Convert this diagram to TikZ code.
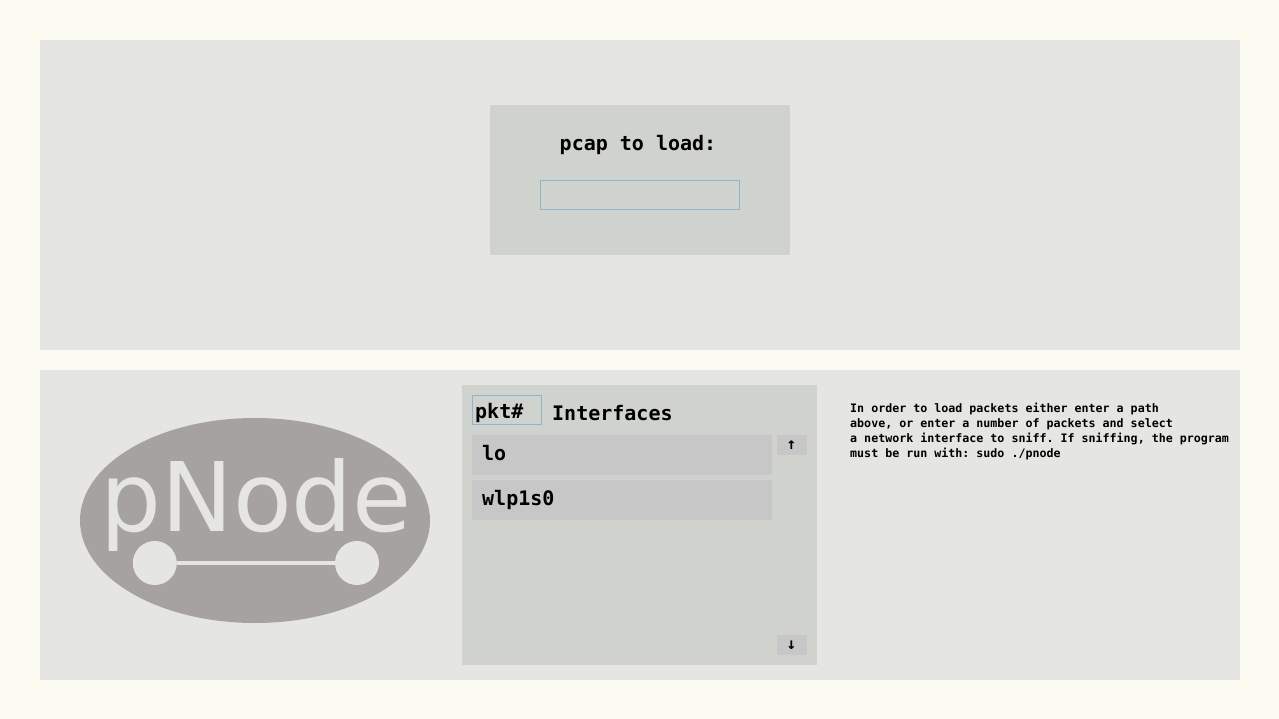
\documentclass[tikz,border=0pt]{standalone}
\usepackage{fontspec}
\usetikzlibrary{shapes.geometric}
\setmonofont{DejaVu Sans Mono}
\newfontfamily\logofont{DejaVu Sans}
\definecolor{pagebg}{HTML}{FBFBF1}
\definecolor{panelbg}{HTML}{E5E5E3}
\definecolor{boxbg}{HTML}{D0D2CD}
\definecolor{itembg}{HTML}{C7C7C7}
\definecolor{logobg}{HTML}{A6A2A0}
\definecolor{inputline}{HTML}{8DB6CF}
\begin{document}
\begin{tikzpicture}[x=1pt,y=-1pt,
  panel/.style={rectangle,fill=#1,inner sep=0pt,outer sep=0pt},
  field/.style={rectangle,draw=inputline,line width=0.8pt,inner sep=0pt,outer sep=0pt},
  mono/.style={inner sep=0pt,font=\ttfamily\bfseries\fontsize{#1}{#1}\selectfont},
  hub/.style={circle,fill=panelbg,minimum size=44pt,inner sep=0pt,outer sep=0pt}]%
  \useasboundingbox (0,0) rectangle (1279,719);
  \fill[pagebg] (0,0) rectangle (1279,719);
  % panels
  \node[panel=panelbg,minimum width=1200pt,minimum height=310pt] (top) at (640,195) {};
  \node[panel=panelbg,minimum width=1200pt,minimum height=310pt] (bottom) at (640,525) {};
  % pcap dialog
  \node[panel=boxbg,minimum width=300pt,minimum height=150pt] (dialog) at (640,180) {};
  \node[mono=20,anchor=base] (pcaplabel) at (638,151) {pcap to load:};
  \node[field,minimum width=199.5pt,minimum height=29.5pt] (pcapinput) at (640,195) {};
  % logo
  \node[ellipse,fill=logobg,minimum width=350pt,minimum height=205pt,inner sep=0pt] (logo) at (255,520.5) {};
  \node[anchor=base,inner sep=0pt,text=panelbg,font=\logofont\fontsize{96}{96}\selectfont] (logotext) at (256,531.5) {pNode};
  \node[hub] (hubleft) at (154.8,563) {};
  \node[hub] (hubright) at (357,563) {};
  \draw[panelbg,line width=3.5pt] (hubleft) -- (hubright);
  % interface list
  \node[panel=boxbg,minimum width=355pt,minimum height=280pt] (listbox) at (639.5,525) {};
  \node[field,minimum width=69.5pt,minimum height=29.5pt] (pktinput) at (507,410) {};
  \node[mono=20,anchor=base west] (pktlabel) at (475,418) {pkt\#};
  \node[mono=20,anchor=base west] (ifacelabel) at (552,420) {Interfaces};
  \foreach \name/\y/\base in {lo/455/460,wlp1s0/500/505} {
    \node[panel=itembg,minimum width=300pt,minimum height=40pt] (item\name) at (622,\y) {};
    \node[mono=20,anchor=base west] (label\name) at (482,\base) {\name};
  }
  \foreach \name/\y/\sym in {up/445/↑,down/645/↓} {
    \node[panel=itembg,minimum width=30pt,minimum height=20pt] (btn\name) at (792,\y) {};
    \node[mono=16] (arrow\name) at (791.5,\y) {\sym};
  }
  % help text
  \foreach \line[count=\i from 0] in {In order to load packets either enter a path,
    {above, or enter a number of packets and select},
    {a network interface to sniff. If sniffing, the program},
    must be run with: sudo ./pnode} {
    \node[mono=11.65,anchor=base west] (help\i) at (850,412+15*\i) {\line};
  }
\end{tikzpicture}
\end{document}
